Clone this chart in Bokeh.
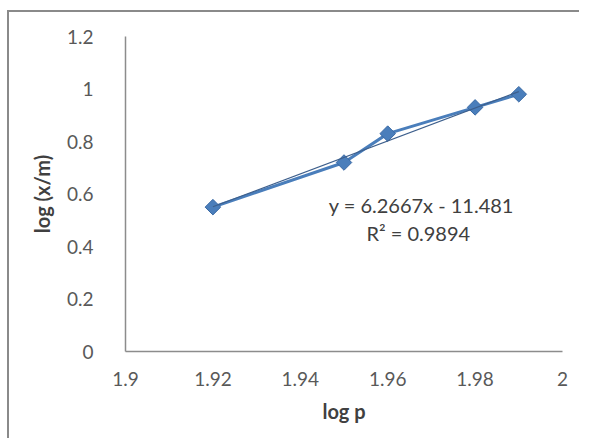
import numpy as np
from bokeh.plotting import figure
from bokeh.models import FixedTicker, CustomJSTickFormatter, Range1d, Label
from bokeh.embed import file_html
from bokeh.resources import INLINE

# data
log_p = [1.92, 1.95, 1.96, 1.98, 1.99]
log_xm = [0.55, 0.72, 0.83, 0.93, 0.98]
x_ticks = [1.9, 1.92, 1.94, 1.96, 1.98, 2.0]
y_ticks = [0, 0.2, 0.4, 0.6, 0.8, 1.0, 1.2]
eq_text = "y = 6.2667x - 11.481"
r2_text = "R² = 0.9894"

slope, intercept = np.polyfit(log_p, log_xm, 1)
trend_x = [min(log_p), max(log_p)]
trend_y = [slope * v + intercept for v in trend_x]

FONT = "Lato"
BLUE = "#4A7EBB"

p = figure(width=572, height=428, output_backend="svg", toolbar_location=None,
           x_range=Range1d(1.9, 2.0), y_range=Range1d(0, 1.2),
           min_border_left=116, min_border_right=19, min_border_top=24, min_border_bottom=89,
           styles={"border-left": "2px solid #8a8a8a", "border-top": "2px solid #8a8a8a",
                   "margin-top": "10px", "margin-left": "7px"})
p.outline_line_color = None
p.grid.visible = False
p.background_fill_color = "white"
p.border_fill_color = "white"

fmt = CustomJSTickFormatter(code="return String(Math.round(tick*100)/100);")
for ax, ticks in ((p.xaxis[0], x_ticks), (p.yaxis[0], y_ticks)):
    ax.ticker = FixedTicker(ticks=ticks)
    ax.formatter = fmt
    ax.axis_line_color = "#8c8c8c"
    ax.axis_line_width = 1.5
    ax.major_tick_line_color = None
    ax.minor_tick_line_color = None
    ax.major_label_text_font = FONT
    ax.major_label_text_font_size = "19px"
    ax.major_label_text_color = "#595959"
    ax.axis_label_text_font = FONT
    ax.axis_label_text_font_size = "20px"
    ax.axis_label_text_font_style = "bold"
    ax.axis_label_text_color = "#404040"

p.xaxis[0].axis_label = "log p"
p.xaxis[0].major_label_standoff = 14
p.xaxis[0].axis_label_standoff = 10
p.yaxis[0].axis_label = "log (x/m)"
p.yaxis[0].major_label_standoff = 26
p.yaxis[0].axis_label_standoff = 10

p.line(log_p, log_xm, line_color=BLUE, line_width=3)
p.scatter(log_p, log_xm, marker="square", angle=np.pi / 4, size=11,
          fill_color=BLUE, line_color="#3A6AA5", line_width=1)
p.line(trend_x, trend_y, line_color="#3D5F8C", line_width=1.2)

p.add_layout(Label(x=1.9677, y=0.560, text=eq_text, text_align="center", text_baseline="middle",
                   text_font=FONT, text_font_size="20px", text_color="#404040"))
p.add_layout(Label(x=1.967, y=0.453, text=r2_text, text_align="center", text_baseline="middle",
                   text_font=FONT, text_font_size="20px", text_color="#404040"))

open("out.html", "w").write(file_html(p, INLINE))
